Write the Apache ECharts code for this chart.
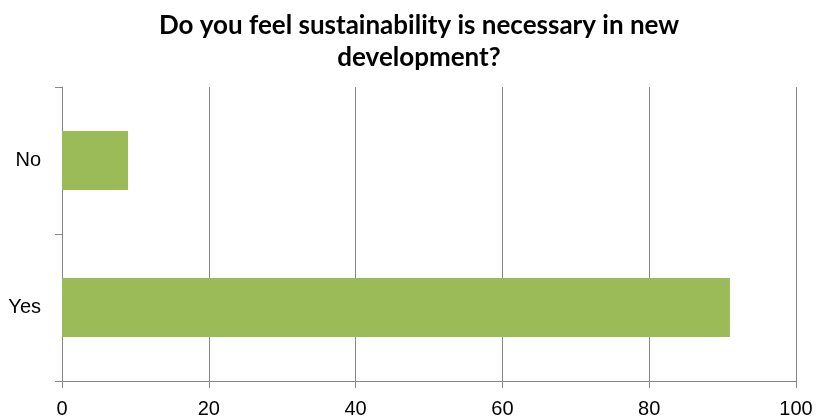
<!DOCTYPE html>
<html><head><meta charset="utf-8">
<script src="https://cdn.jsdelivr.net/npm/echarts@6/dist/echarts.min.js"></script>
<style>html,body{margin:0;padding:0;background:#fff}#c{width:817px;height:416px}</style>
</head><body><div id="c"></div>
<script>
var categories = ['No', 'Yes'];
var values = [9, 91];
var titleText = 'Do you feel sustainability is necessary in new\ndevelopment?';
var chart = echarts.init(document.getElementById('c'));
var axisGray = '#868686';
chart.setOption({
  animation: false,
  title: {
    text: titleText, left: 414, top: 5, textAlign: 'center',
    textStyle: {fontFamily: 'Lato', fontWeight: 'bold', fontSize: 26, lineHeight: 32, color: '#000'}
  },
  grid: {left: 62, right: 21, top: 87, bottom: 35, outerBoundsMode: 'none', containLabel: false},
  xAxis: {
    type: 'value', min: 0, max: 100, interval: 20,
    axisLine: {show: true, lineStyle: {color: axisGray}},
    axisTick: {show: true, length: 7, lineStyle: {color: axisGray}},
    splitLine: {show: true, lineStyle: {color: axisGray}},
    axisLabel: {color: '#000', fontFamily: 'Liberation Sans', fontSize: 20, margin: 18}
  },
  yAxis: {
    type: 'category', data: categories, inverse: true,
    axisLine: {show: true, lineStyle: {color: axisGray}},
    axisTick: {show: true, length: 7, lineStyle: {color: axisGray}},
    axisLabel: {color: '#000', fontFamily: 'Liberation Sans', fontSize: 20, margin: 21}
  },
  series: [{
    type: 'bar', data: values, barWidth: '40%',
    itemStyle: {color: '#9BBB59'}
  }]
});
</script></body></html>
